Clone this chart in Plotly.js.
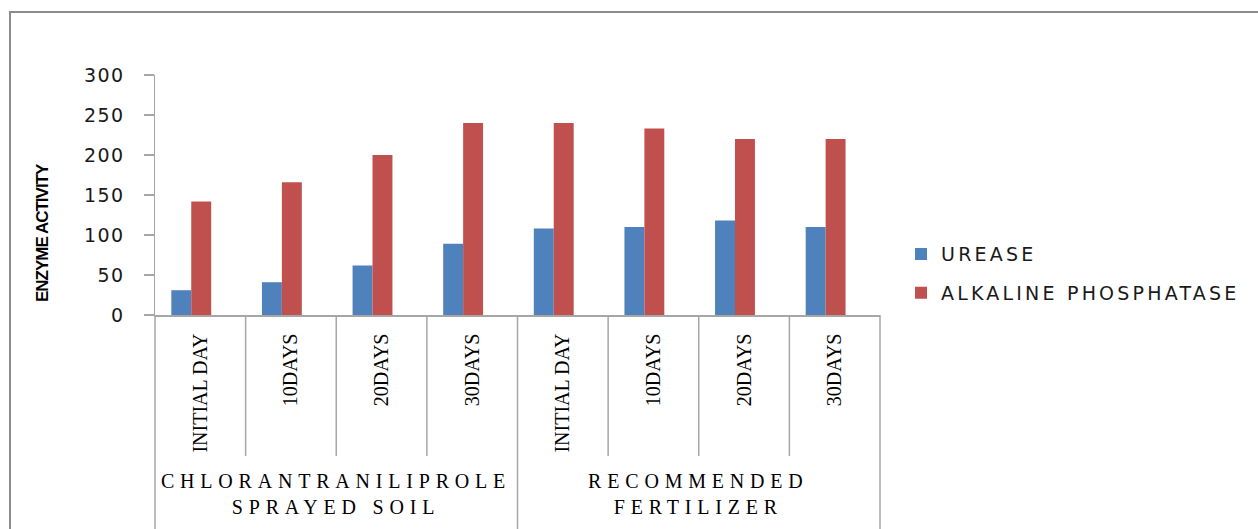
<!DOCTYPE html>
<html>
<head>
<meta charset="utf-8">
<script src="https://cdn.plot.ly/plotly-3.0.1.min.js"></script>
<style>
html, body { margin: 0; padding: 0; background: #ffffff; }
#chart { width: 1258px; height: 529px; }
.ytick text { letter-spacing: 1.5px; }
.legendtext { letter-spacing: 3.2px; }
.annotation[data-index="0"] .annotation-text { letter-spacing: -1px; }
.annotation[data-index="1"] .annotation-text,
.annotation[data-index="2"] .annotation-text { letter-spacing: 5.8px; }
</style>
</head>
<body>
<div id="chart"></div>
<script>
// ---- data ----
const days = ['INITIAL DAY', '10DAYS', '20DAYS', '30DAYS', 'INITIAL DAY', '10DAYS', '20DAYS', '30DAYS'];
const groupLabels = ['CHLORANTRANILIPROLE<br>SPRAYED SOIL', 'RECOMMENDED<br>FERTILIZER'];
const groupOfCategory = [0, 0, 0, 0, 1, 1, 1, 1];
const seriesNames = ['UREASE', 'ALKALINE PHOSPHATASE'];
const urease = [31, 41, 62, 89, 108, 110, 118, 110];
const alkalinePhosphatase = [142, 166, 200, 240, 240, 233, 220, 220];
const yTickValues = [0, 50, 100, 150, 200, 250, 300];

// ---- build ----
const xPos = days.map((d, i) => i);
const colors = ['#4F81BD', '#C0504D'];

const traces = [
  { type: 'bar', name: seriesNames[0], x: xPos, y: urease, width: 0.22, offset: -0.32,
    marker: { color: colors[0], line: { width: 0 } }, legendgroup: 'a', hoverinfo: 'y' },
  { type: 'bar', name: seriesNames[1], x: xPos, y: alkalinePhosphatase, width: 0.22, offset: -0.10,
    marker: { color: colors[1], line: { width: 0 } }, legendgroup: 'b', hoverinfo: 'y' }
];

const gray = '#a6a6a6';
const shapes = [];
// category dividers below the axis
for (let i = 1; i < days.length; i++) {
  const boundary = groupOfCategory[i] !== groupOfCategory[i - 1];
  shapes.push({ type: 'line', xref: 'x', yref: 'paper', x0: i - 0.5, x1: i - 0.5,
    y0: 0, y1: boundary ? -0.95 : -0.5875, line: { color: gray, width: 1.5 } });
}
// outer edges
[0, 1].forEach(px => shapes.push({ type: 'line', xref: 'paper', yref: 'paper', x0: px, x1: px,
  y0: 0, y1: -0.95, line: { color: gray, width: 1.5 } }));
// chart frame
shapes.push({ type: 'rect', xref: 'paper', yref: 'paper', x0: -0.2, x1: 1.6, y0: -0.95, y1: 1.2625,
  line: { color: '#8c8c8c', width: 2 }, fillcolor: 'rgba(0,0,0,0)' });

const annotations = [
  { text: 'ENZYME ACTIVITY', xref: 'paper', yref: 'paper', x: -0.155, y: 0.342, textangle: -90,
    showarrow: false, xanchor: 'center', yanchor: 'middle',
    font: { family: 'Liberation Sans, Arial, sans-serif', size: 17, color: '#000000', weight: 'bold' } }
];
groupLabels.forEach((g, gi) => {
  const members = xPos.filter((p, i) => groupOfCategory[i] === gi);
  const center = members.reduce((a, b) => a + b, 0) / members.length;
  annotations.push({ text: g, xref: 'x', yref: 'paper', x: center, y: -0.746, showarrow: false,
    xanchor: 'center', yanchor: 'middle', align: 'center',
    font: { family: 'Liberation Serif, Times New Roman, serif', size: 20, color: '#000000' } });
});

const layout = {
  width: 1258, height: 529,
  margin: { l: 155, r: 378, t: 75, b: 214, pad: 0 },
  paper_bgcolor: '#ffffff', plot_bgcolor: '#ffffff',
  barmode: 'overlay',
  showlegend: true,
  legend: { x: 1.029, xanchor: 'left', y: 0.172, yanchor: 'middle', traceorder: 'grouped',
    tracegroupgap: 11, bgcolor: 'rgba(0,0,0,0)', borderwidth: 0,
    font: { family: 'DejaVu Sans, Verdana, sans-serif', size: 19, color: '#1a1a1a' } },
  xaxis: {
    range: [-0.5, days.length - 0.5], tickmode: 'array', tickvals: xPos, ticktext: days,
    tickangle: -90, ticks: '', ticklabelstandoff: 9, showgrid: false, zeroline: false,
    showline: true, linecolor: gray, linewidth: 1.5, fixedrange: true,
    tickfont: { family: 'Liberation Serif, Times New Roman, serif', size: 20, color: '#000000' }
  },
  yaxis: {
    range: [0, 300], tickmode: 'array', tickvals: yTickValues, showgrid: false, zeroline: false,
    showline: true, linecolor: gray, linewidth: 1.5, ticks: 'outside', ticklen: 10,
    tickcolor: gray, tickwidth: 1.5, ticklabelstandoff: 15, fixedrange: true,
    tickfont: { family: 'DejaVu Sans, Verdana, sans-serif', size: 19, color: '#1a1a1a' }
  },
  shapes: shapes,
  annotations: annotations
};

Plotly.newPlot('chart', traces, layout, { displayModeBar: false, staticPlot: true });
</script>
</body>
</html>
